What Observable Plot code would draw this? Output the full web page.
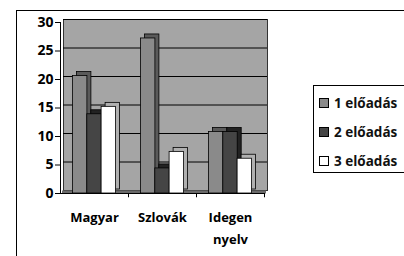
<!DOCTYPE html>
<html><head><meta charset="utf-8">
<script src="https://cdn.jsdelivr.net/npm/d3@7"></script>
<script src="https://cdn.jsdelivr.net/npm/@observablehq/plot@0.6"></script>
<style>
body{margin:0;background:#fff;}
#wrap{position:relative;width:404px;height:256px;overflow:hidden;font-family:"Open Sans",sans-serif;}
#chart{position:absolute;left:0;top:0;}
#frame{position:absolute;left:16px;top:10px;width:420px;height:280px;border:1px solid #000;}
#legend{position:absolute;left:313px;top:85px;width:120px;height:88px;border:1px solid #000;background:#fff;box-sizing:border-box;padding-top:2px;}
.row{display:flex;align-items:center;height:29px;font-size:13.5px;font-weight:bold;color:#111;}
.sw{width:8px;height:8px;border:1px solid #000;margin-left:5px;margin-right:5px;}
</style></head>
<body>
<div id="wrap"><div id="frame"></div><div id="chart"></div><div id="legend"></div></div>
<script>
const categories = ["Magyar", "Szlovák", "Idegen nyelv"];
const seriesNames = ["1 előadás", "2 előadás", "3 előadás"];
const series1 = [20.6, 27.2, 10.8];
const series2 = [13.9, 4.4, 10.8];
const series3 = [15.2, 7.3, 6.1];
const yTicks = [0, 5, 10, 15, 20, 25, 30];

const frontColors = ["#8a8a8a", "#454545", "#ffffff"];
const sideColors = ["#5a5a5a", "#222222", "#b0b0b0"];
const allSeries = [series1, series2, series3];

const barMarks = [];
allSeries.forEach((vals, s) => {
  const data = categories.map((c, i) => ({category: c, value: vals[i]}));
  const off = (s - 1) * 14.3;
  const common = {x: "category", y: "value", insetLeft: 26.8 + off, insetRight: 26.8 - off};
  barMarks.push(Plot.barY(data, {...common, fill: sideColors[s], stroke: "#000", strokeWidth: 0.8, dx: 4, dy: -4}));
  barMarks.push(Plot.barY(data, {...common, fill: frontColors[s], stroke: "#000", strokeWidth: 0.8}));
});

const chart = Plot.plot({
  width: 404, height: 256,
  marginLeft: 60, marginRight: 140, marginTop: 22, marginBottom: 63,
  style: {fontFamily: "Open Sans, sans-serif", background: "transparent"},
  x: {domain: categories, padding: 0},
  y: {domain: [0, 30]},
  marks: [
    Plot.frame({fill: "#a5a5a5", stroke: "#333", dx: 3, dy: -3}),
    Plot.ruleY(yTicks.slice(1), {stroke: "#000", strokeWidth: 1, dx: 3, dy: -3}),
    Plot.ruleY([0], {stroke: "#6a6a6a", strokeWidth: 3, dx: 2, dy: -1.5}),
    ...barMarks,
    Plot.ruleY([0], {stroke: "#000", strokeWidth: 1}),
    Plot.ruleX([categories[0]], {stroke: "#000", dx: -34}),
    Plot.ruleX(categories, {y1: 0, y2: -0.75, stroke: "#000", dx: 34}),
    Plot.ruleY(yTicks, {x1: categories[0], x2: categories[0], dx: -34, insetRight: -3, stroke: "#000"}),
    Plot.axisY({ticks: yTicks, tickSize: 5, tickPadding: 2, fontSize: 14, fontWeight: "bold", label: null}),
    Plot.axisX({tickSize: 0, tickPadding: 12, fontSize: 13, fontWeight: "bold", lineHeight: 1.75, label: null,
      tickFormat: d => d.replace(" ", "\n")})
  ]
});
document.getElementById("chart").appendChild(chart);

const legend = document.getElementById("legend");
seriesNames.forEach((n, i) => {
  const row = document.createElement("div");
  row.className = "row";
  const sw = document.createElement("div");
  sw.className = "sw";
  sw.style.background = frontColors[i];
  row.appendChild(sw);
  row.appendChild(document.createTextNode(n));
  legend.appendChild(row);
});
</script>
</body></html>
